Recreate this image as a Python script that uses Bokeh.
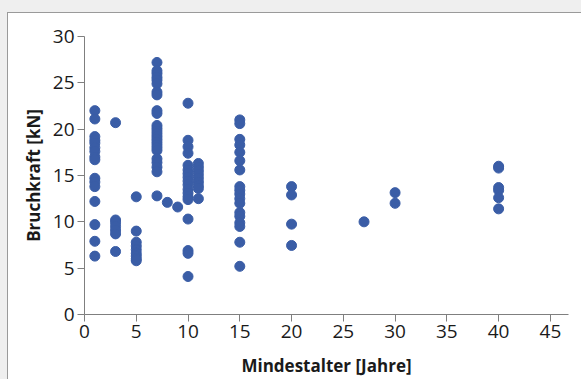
from bokeh.plotting import figure
from bokeh.models import Range1d, ColumnDataSource, GlobalInlineStyleSheet
from bokeh.embed import file_html
from bokeh.resources import INLINE

# Mindestalter [Jahre] -> Bruchkraft [kN]
kraft_1 = [22.0, 21.1, 19.2, 18.8, 18.5, 18.0, 17.6, 17.0, 16.7, 14.7, 14.3, 13.8, 12.2, 9.7, 7.9, 6.3]
kraft_3 = [20.7, 10.2, 9.9, 9.5, 9.1, 8.7, 6.8]
kraft_5 = [12.7, 9.0, 7.8, 7.4, 7.0, 6.6, 6.3, 6.0, 5.8]
kraft_7 = [27.2, 26.3, 26.0, 25.6, 25.3, 24.9, 24.0, 23.7, 22.0, 21.7, 20.4, 20.1, 19.8, 19.5,
           19.2, 18.9, 18.6, 18.3, 18.0, 17.7, 16.8, 16.4, 15.9, 15.4, 12.8]
kraft_8 = [12.1]
kraft_9 = [11.6]
kraft_10 = [22.8, 18.8, 18.1, 17.4, 16.1, 15.6, 15.2, 14.8, 14.4, 14.0, 13.5, 13.1, 12.7, 12.4,
            10.3, 6.9, 6.6, 4.1]
kraft_11 = [16.3, 15.9, 15.5, 15.1, 14.7, 14.3, 13.9, 13.6, 12.5]
kraft_15 = [21.0, 20.6, 18.9, 18.3, 17.5, 16.6, 15.6, 13.8, 13.4, 13.0, 12.5, 12.0, 11.0, 10.6,
            9.9, 9.5, 7.8, 5.2]
kraft_20 = [13.8, 12.9, 9.75, 7.45]
kraft_27 = [10.0]
kraft_30 = [13.15, 12.0]
kraft_40 = [16.0, 15.8, 13.7, 13.4, 12.6, 11.4]

groups = [(1, kraft_1), (3, kraft_3), (5, kraft_5), (7, kraft_7), (8, kraft_8), (9, kraft_9),
          (10, kraft_10), (11, kraft_11), (15, kraft_15), (20, kraft_20), (27, kraft_27),
          (30, kraft_30), (40, kraft_40)]

x_ticks = [0, 5, 10, 15, 20, 25, 30, 35, 40, 45]
y_ticks = [0, 5, 10, 15, 20, 25, 30]

xs, ys = [], []
for age, vals in groups:
    for v in vals:
        xs.append(age)
        ys.append(v)
src = ColumnDataSource(dict(x=xs, y=ys))

page_css = """
html, body { margin: 0; padding: 0; background: #ffffff; overflow: hidden; }
body::before { content: ""; position: fixed; left: 0; top: 0; width: 100%; height: 12px;
  background: #efefef; border-bottom: 1px solid #9a9a9a; z-index: 1000; }
body::after { content: ""; position: fixed; left: 0; top: 12px; bottom: 0; width: 7px;
  background: #efefef; border-right: 1px solid #9a9a9a; z-index: 1001; }
"""

p = figure(width=573, height=366, output_backend="svg", toolbar_location=None,
           x_range=Range1d(0, 46.75), y_range=Range1d(0, 30),
           min_border_left=76, min_border_top=23, min_border_bottom=63, min_border_right=13)
p.stylesheets = [GlobalInlineStyleSheet(css=page_css)]
p.styles = {"margin-top": "13px", "margin-left": "8px"}
p.background_fill_color = "white"
p.border_fill_color = "white"
p.outline_line_color = None
p.grid.visible = False

p.scatter("x", "y", source=src, size=10, color="#3a5da6", line_color="#3a5da6")

for ax in (p.xaxis[0], p.yaxis[0]):
    ax.axis_line_color = "#7f7f7f"
    ax.major_tick_line_color = "#7f7f7f"
    ax.minor_tick_line_color = None
    ax.major_tick_in = 0
    ax.major_tick_out = 7
    ax.major_label_text_font = "Open Sans"
    ax.major_label_text_font_size = "19px"
    ax.major_label_text_color = "#1a1a1a"
    ax.axis_label_text_font = "Open Sans"
    ax.axis_label_text_font_style = "bold"
    ax.axis_label_text_font_size = "17px"
    ax.axis_label_text_color = "#1a1a1a"

p.xaxis.ticker = x_ticks
p.yaxis.ticker = y_ticks
p.xaxis.axis_label = "Mindestalter [Jahre]"
p.yaxis.axis_label = "Bruchkraft [kN]"
p.xaxis.major_label_standoff = 3
p.yaxis.major_label_standoff = 3
p.xaxis.axis_label_standoff = 13
p.yaxis.axis_label_standoff = 5

open("out.html", "w").write(file_html(p, INLINE))
